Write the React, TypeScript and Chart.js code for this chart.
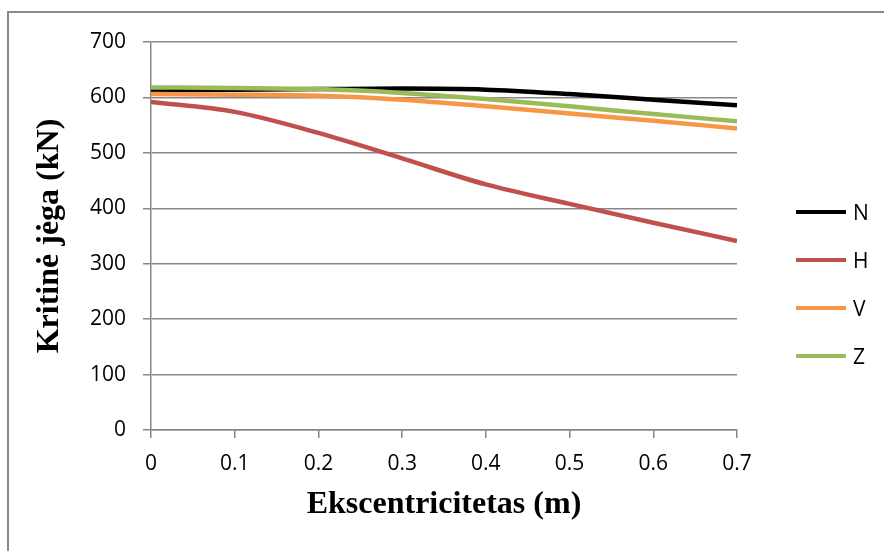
import React, { useEffect, useRef } from "react";
import { Chart, registerables } from "chart.js";

Chart.register(...registerables);

const xValues = [0, 0.1, 0.2, 0.3, 0.4, 0.5, 0.6, 0.7];
const seriesN = [613, 614, 615, 616, 614, 606, 596, 586];
const seriesH = [592, 574, 536, 490, 443, 408, 374, 341];
const seriesV = [606, 605, 603, 596, 584, 571, 558, 544];
const seriesZ = [618, 617, 615, 608, 597, 584, 570, 557];
const seriesNames = ["N", "H", "V", "Z"];
const seriesColors = ["#000000", "#C0504D", "#F79646", "#9BBB59"];
const yTitle = "Kritinė jėga (kN)";
const xTitle = "Ekscentricitetas (m)";

const W = 884;
const H = 551;
const gridColor = "#878787";
const tickFont = { family: "'Open Sans', 'Liberation Sans', sans-serif", size: 21 };
const titleFont = { family: "'Liberation Serif', 'DejaVu Serif', serif", size: 32, weight: "bold" as const };

export default function App() {
  const ref = useRef<HTMLCanvasElement | null>(null);

  useEffect(() => {
    if (!ref.current) return;
    const all = [seriesN, seriesH, seriesV, seriesZ];
    const chart = new Chart(ref.current, {
      type: "line",
      data: {
        datasets: all.map((vals, i) => ({
          label: seriesNames[i],
          data: vals.map((v, j) => ({ x: xValues[j], y: v })),
          borderColor: seriesColors[i],
          backgroundColor: seriesColors[i],
          borderWidth: 4.5,
          pointRadius: 0,
          cubicInterpolationMode: "monotone" as const,
          fill: false,
          order: 4 - i,
        })),
      },
      options: {
        animation: false,
        responsive: false,
        maintainAspectRatio: false,
        layout: { padding: { left: 0, top: 42, right: 147, bottom: 0 } },
        plugins: { legend: { display: false }, tooltip: { enabled: false } },
        scales: {
          x: {
            type: "linear",
            min: 0,
            max: 0.7,
            ticks: {
              stepSize: 0.1,
              color: "#000",
              font: tickFont,
              padding: 13,
              maxRotation: 0,
              callback: (v: any) => {
                const n = Number(Number(v).toFixed(1));
                return n === 0 ? "0" : n.toFixed(1);
              },
            },
            grid: { drawOnChartArea: false, drawTicks: true, tickLength: 8, color: gridColor, lineWidth: 1.5 },
            border: { display: true, color: gridColor, width: 1.5 },
            title: { display: true, text: xTitle, color: "#000", font: titleFont, padding: { top: 0, bottom: 27 } },
            afterFit: (s: any) => { s.height = 121; },
          },
          y: {
            type: "linear",
            min: 0,
            max: 700,
            ticks: { stepSize: 100, color: "#000", font: tickFont, padding: 17 },
            grid: { drawOnChartArea: true, drawTicks: true, tickLength: 8, color: gridColor, lineWidth: 1.5 },
            border: { display: true, color: gridColor, width: 1.5 },
            title: { display: true, text: yTitle, color: "#000", font: titleFont, padding: { top: 31, bottom: 0 } },
            afterFit: (s: any) => { s.width = 151; },
          },
        },
      },
    });
    return () => chart.destroy();
  }, []);

  const legendY = [212, 260, 308, 356];

  return (
    <div style={{ position: "fixed", left: 0, top: 0, width: W, height: H, overflow: "hidden", background: "#fff" }}>
      <div
        style={{
          position: "absolute",
          left: 7,
          top: 11,
          width: W + 50,
          height: H + 50,
          borderLeft: "2px solid #8a8a8a",
          borderTop: "2px solid #8a8a8a",
        }}
      />
      <canvas ref={ref} width={W} height={H} style={{ position: "absolute", left: 0, top: 0, width: W, height: H }} />
      {seriesNames.map((name, i) => (
        <div key={name}>
          <div
            style={{
              position: "absolute",
              left: 796,
              top: legendY[i] - 2,
              width: 50,
              height: 4,
              background: seriesColors[i],
            }}
          />
          <div
            style={{
              position: "absolute",
              left: 853,
              top: legendY[i] - 15,
              height: 30,
              lineHeight: "30px",
              fontFamily: "'Open Sans', 'Liberation Sans', sans-serif",
              fontSize: 21,
              color: "#000",
            }}
          >
            {name}
          </div>
        </div>
      ))}
    </div>
  );
}
